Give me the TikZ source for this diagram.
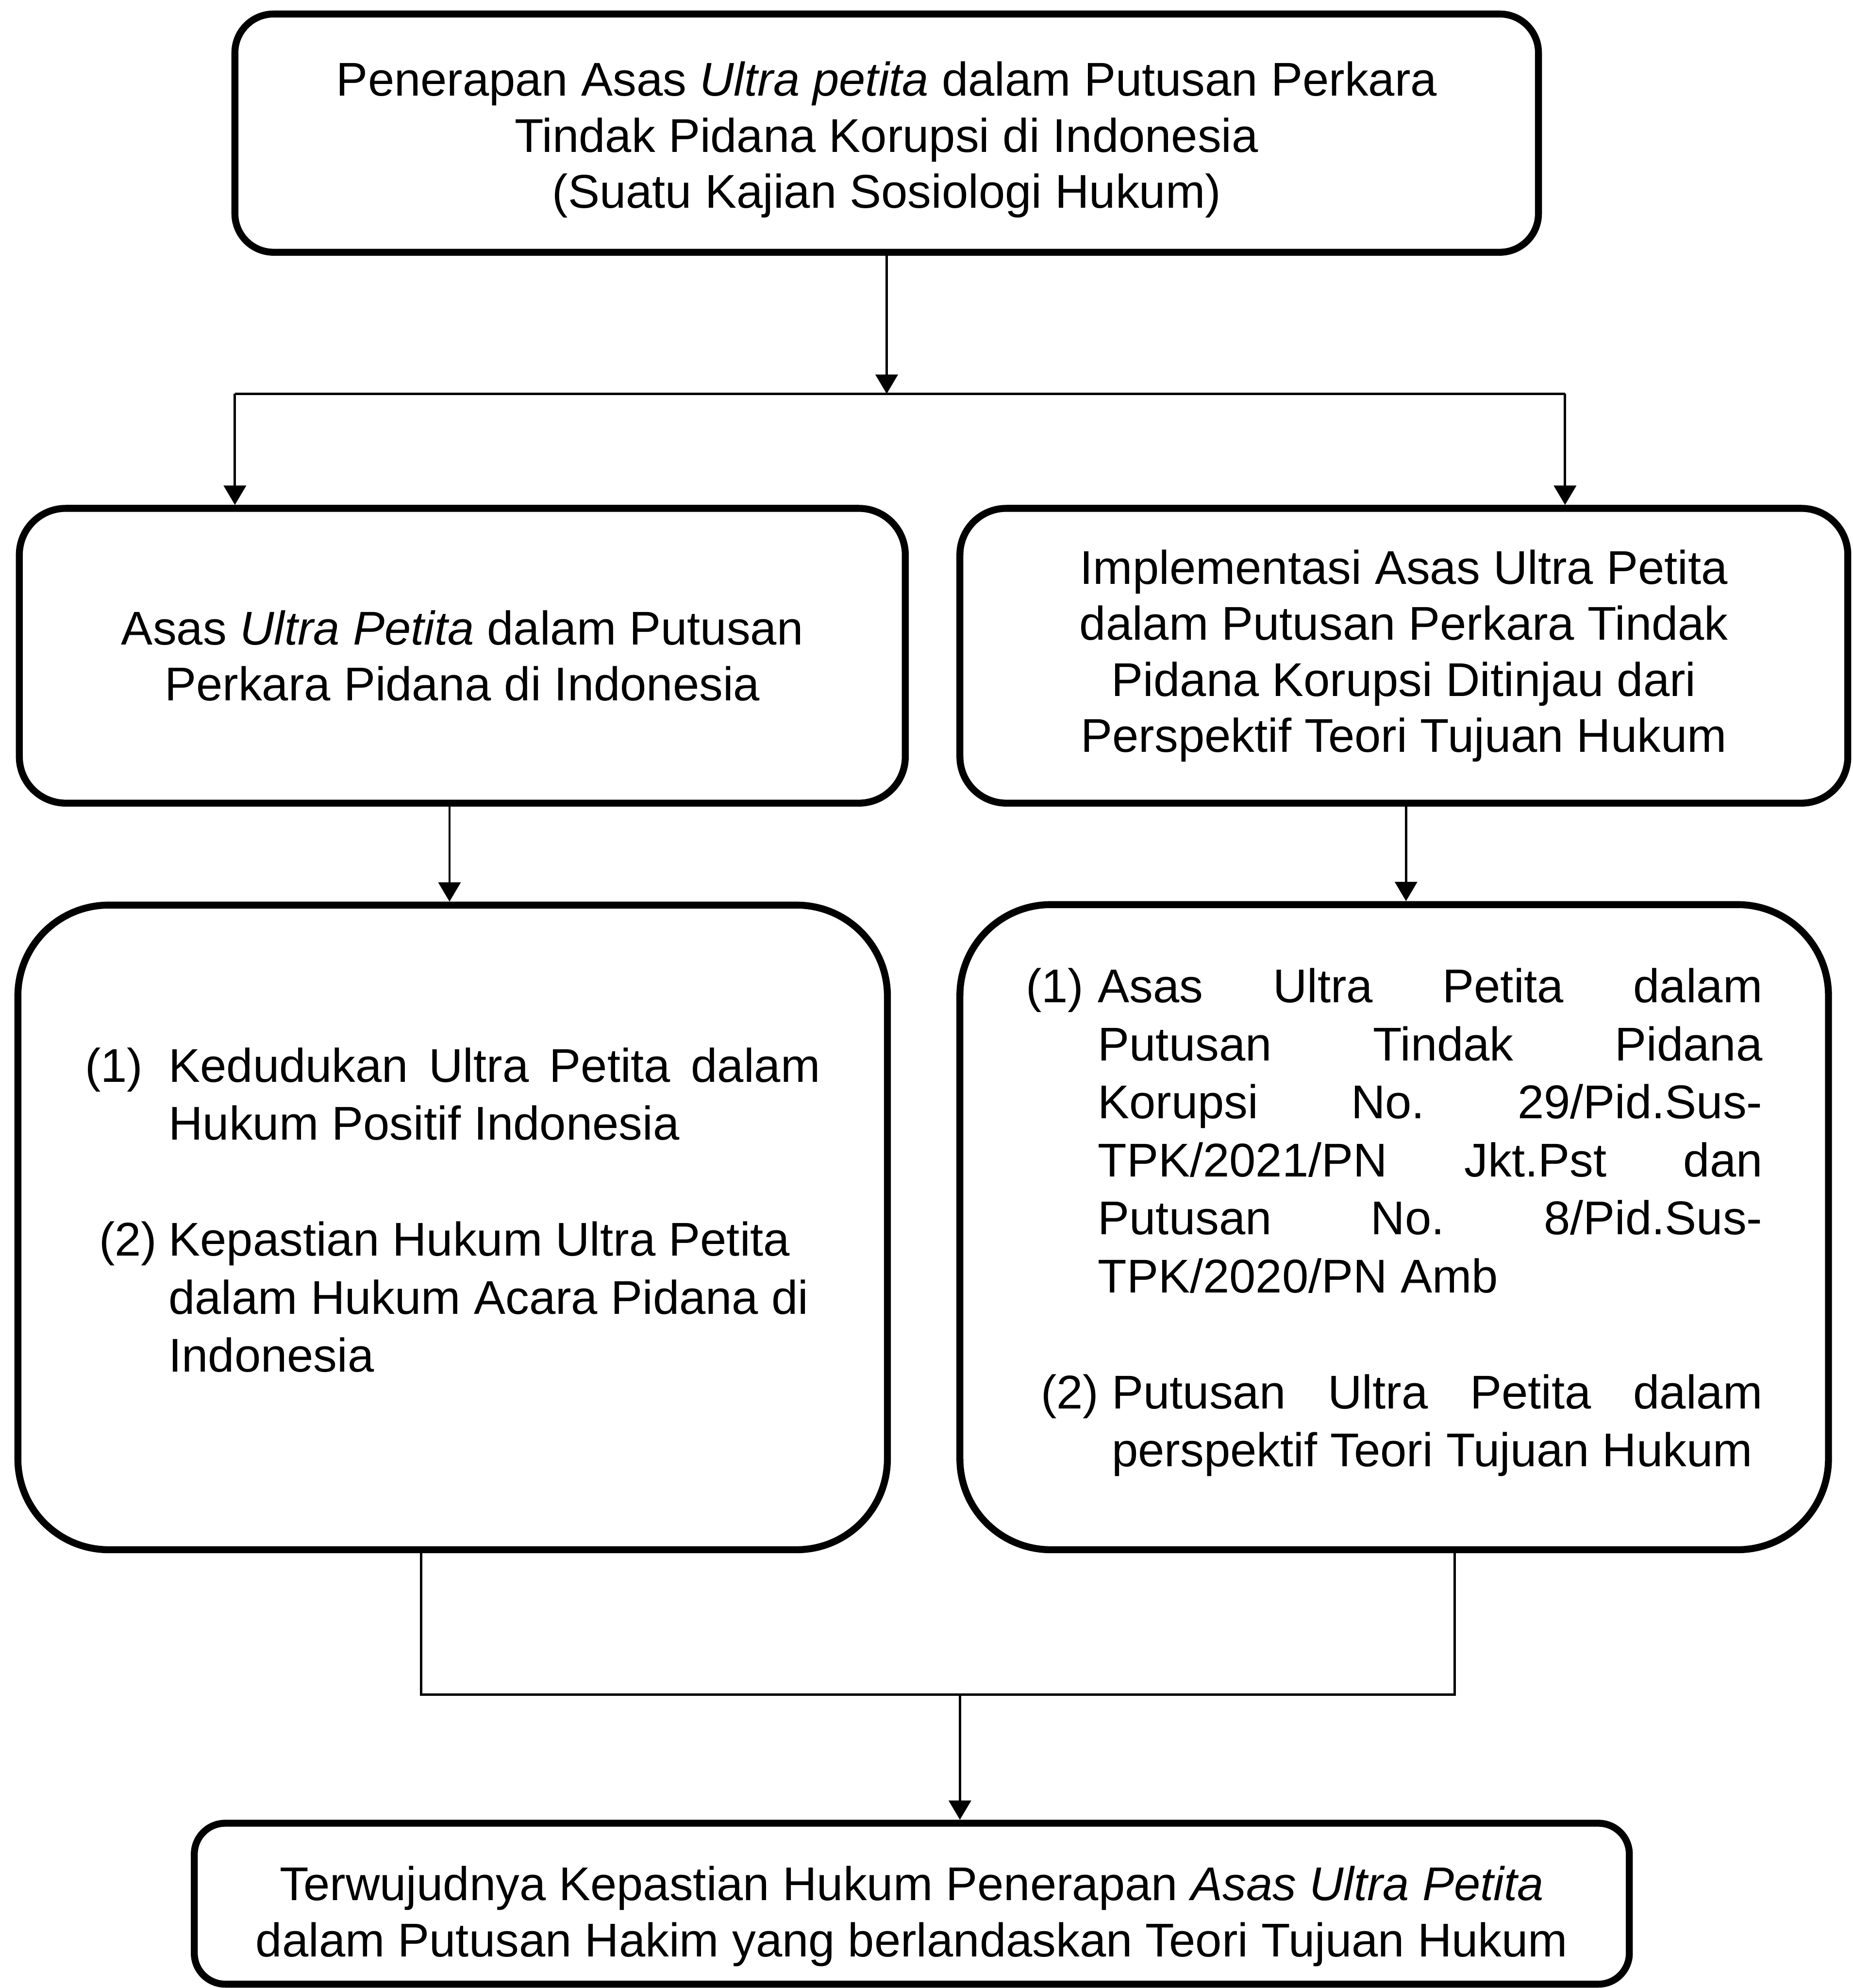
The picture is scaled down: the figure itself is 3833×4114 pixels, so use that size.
\documentclass[tikz,border=0pt]{standalone}
\usepackage{fontspec}
\setmainfont{Liberation Sans}
\usetikzlibrary{arrows.meta}
\tikzset{
  box/.style={draw=black, line width=3.6pt, fill=white, inner sep=0pt, align=center,
    font=\fontsize{24.5pt}{29pt}\selectfont},
  ln/.style={draw=black, line width=1.2pt},
  arr/.style={ln, -{Triangle[length=10pt,width=11.5pt]}}
}
\newcommand{\shiftc}[2]{\raisebox{#1}[\height][\depth]{\begin{tabular}{@{}c@{}}#2\end{tabular}}}
\begin{document}
\begin{tikzpicture}[x=0.25pt,y=-0.25pt]
\fill[white] (0,0) rectangle (3833,4114);
\useasboundingbox (0,0) rectangle (3833,4114);

\node[box, minimum width=674.25pt, minimum height=123.25pt, rounded corners=20pt] (top) at (1834.5,275.5)
  {\shiftc{-4pt}{Penerapan Asas \textit{Ultra petita} dalam Putusan Perkara\\ Tindak Pidana Korupsi di Indonesia\\ (Suatu Kajian Sosiologi Hukum)}};

\node[box, minimum width=458.25pt, minimum height=152.5pt, rounded corners=24pt] (b2l) at (956.5,1357)
  {Asas \textit{Ultra Petita} dalam Putusan\\ Perkara Pidana di Indonesia};

\node[box, minimum width=459.25pt, minimum height=152.5pt, rounded corners=24pt] (b2r) at (2904.5,1357)
  {Implementasi Asas Ultra Petita\\ dalam Putusan Perkara Tindak\\ Pidana Korupsi Ditinjau dari\\ Perspektif Teori Tujuan Hukum};

\node[box, minimum width=449.75pt, minimum height=333.5pt, rounded corners=47pt] (b3l) at (936.5,2540)
  {\raisebox{9pt}[\height][\depth]{\begin{minipage}{380.25pt}\fontsize{24.5pt}{30pt}\selectfont
   \frenchspacing\setlength{\parindent}{0pt}\setlength{\parskip}{0pt}\tolerance=10000
   \hangindent=43.25pt\hangafter=1
   \makebox[43.25pt][l]{(1)}Kedudukan Ultra Petita dalam\linebreak Hukum Positif Indonesia\par
   \vspace{30pt}
   \hangindent=43.25pt\hangafter=1
   \hspace*{7.25pt}\makebox[36pt][l]{(2)}Kepastian Hukum Ultra Petita\newline dalam Hukum Acara Pidana di\newline Indonesia\par
   \end{minipage}}};

\node[box, minimum width=449.25pt, minimum height=333.75pt, rounded corners=47pt] (b3r) at (2884.5,2539.5)
  {\raisebox{2.5pt}[\height][\depth]{\begin{minipage}{381pt}\fontsize{24.5pt}{30pt}\selectfont
   \frenchspacing\setlength{\parindent}{0pt}\setlength{\parskip}{0pt}\tolerance=10000
   \hangindent=37.25pt\hangafter=1
   \makebox[37.25pt][l]{(1)}Asas Ultra Petita dalam\linebreak Putusan Tindak Pidana\linebreak Korupsi No. 29/Pid.Sus-\linebreak TPK/2021/PN Jkt.Pst dan\linebreak Putusan No. 8/Pid.Sus-\linebreak TPK/2020/PN Amb\par
   \vspace{30pt}
   \hangindent=44.5pt\hangafter=1
   \hspace*{7.75pt}\makebox[36.75pt][l]{(2)}Putusan Ultra Petita dalam\linebreak perspektif Teori Tujuan Hukum\par
   \end{minipage}}};

\node[box, minimum width=742.25pt, minimum height=83.25pt, rounded corners=16pt] (bot) at (1886.5,3939.5)
  {\shiftc{-7pt}{Terwujudnya Kepastian Hukum Penerapan \textit{Asas Ultra Petita}\\ dalam Putusan Hakim yang berlandaskan Teori Tujuan Hukum}};

% connectors
\coordinate (split) at (1834.5,815);
\coordinate (sl) at (486,815);
\coordinate (sr) at (3238,815);
\draw[arr] (top.south) -- (split);
\draw[ln] (sl) -- (sr);
\draw[arr] (sl) -- (sl |- b2l.north);
\draw[arr] (sr) -- (sr |- b2r.north);

\coordinate (xl) at (930,1700);
\coordinate (xr) at (2909,1700);
\draw[arr] (xl |- b2l.south) -- (xl |- b3l.north);
\draw[arr] (xr |- b2r.south) -- (xr |- b3r.north);

\coordinate (ml) at (871,3507);
\coordinate (mr) at (3010,3507);
\coordinate (m) at (1986,3507);
\draw[ln] (ml |- b3l.south) -- (ml) -- (mr) -- (mr |- b3r.south);
\draw[arr] (m) -- (m |- bot.north);
\end{tikzpicture}
\end{document}
